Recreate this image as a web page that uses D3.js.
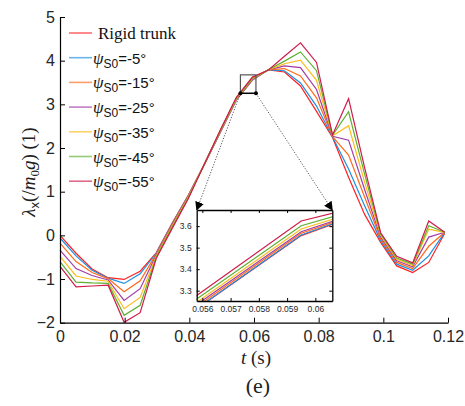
<!DOCTYPE html>
<html>
<head>
<meta charset="utf-8">
<script src="https://cdn.jsdelivr.net/npm/d3@7"></script>
<style>
  body { margin: 0; background: #fff; }
  .axis path, .axis line { stroke: #000; }
  .axis text { font-family: "Liberation Sans", Arial, sans-serif; fill: #262626; }
  .line { fill: none; stroke-width: 1.2px; stroke-linejoin: miter; }
</style>
</head>
<body>
<div class="svg_container"></div>
<script>
// time samples (s)
var times = [0, 0.00496, 0.00992, 0.01488, 0.01983, 0.02479, 0.02975, 0.03471, 0.03967,
  0.04463, 0.04958, 0.05454, 0.0595, 0.06446, 0.06942, 0.07438, 0.07933, 0.08429,
  0.08925, 0.09421, 0.09917, 0.10413, 0.10908, 0.11404, 0.119];

var seriesNames = ["Rigid trunk", "-5°", "-15°", "-25°", "-35°", "-45°", "-55°"];
var seriesColors = ["#ff2020", "#1f8fe0", "#ff6a1a", "#a23ca6", "#ffbb1c", "#5fb032", "#d01c4c"];

var rigid = [0.00, -0.41, -0.77, -0.97, -1.01, -0.82, -0.40, 0.28, 0.92, 1.62, 2.36, 3.10, 3.556, 3.79, 3.74, 3.42, 2.84, 2.24, 1.33, 0.48, -0.16, -0.70, -0.85, -0.62, 0.05];
var psi5  = [-0.06, -0.47, -0.80, -0.98, -1.10, -0.88, -0.41, 0.27, 0.91, 1.62, 2.36, 3.10, 3.559, 3.79, 3.77, 3.49, 2.96, 2.25, 1.52, 0.68, -0.12, -0.66, -0.80, -0.47, 0.07];
var psi15 = [-0.18, -0.60, -0.85, -0.99, -1.29, -1.04, -0.43, 0.26, 0.90, 1.63, 2.37, 3.11, 3.567, 3.79, 3.82, 3.65, 3.15, 2.26, 1.84, 0.88, -0.08, -0.62, -0.76, -0.25, 0.07];
var psi25 = [-0.34, -0.76, -0.92, -1.02, -1.49, -1.22, -0.45, 0.24, 0.89, 1.63, 2.38, 3.12, 3.574, 3.79, 3.88, 3.84, 3.34, 2.27, 2.18, 1.05, -0.04, -0.58, -0.72, -0.04, 0.07];
var psi35 = [-0.48, -0.93, -1.01, -1.05, -1.68, -1.42, -0.47, 0.22, 0.88, 1.63, 2.39, 3.13, 3.587, 3.79, 3.93, 4.01, 3.55, 2.28, 2.51, 1.22, 0.00, -0.55, -0.69, 0.14, 0.07];
var psi45 = [-0.60, -1.07, -1.09, -1.10, -1.83, -1.60, -0.50, 0.19, 0.86, 1.63, 2.40, 3.145, 3.602, 3.79, 3.99, 4.20, 3.77, 2.29, 2.83, 1.40, 0.03, -0.52, -0.66, 0.22, 0.07];
var psi55 = [-0.71, -1.18, -1.16, -1.14, -1.99, -1.77, -0.53, 0.16, 0.84, 1.63, 2.41, 3.16, 3.624, 3.785, 4.10, 4.41, 3.96, 2.30, 3.13, 1.55, 0.06, -0.48, -0.63, 0.33, 0.07];

var xTicks = [0, 0.02, 0.04, 0.06, 0.08, 0.1, 0.12];
var yTicks = [-2, -1, 0, 1, 2, 3, 4, 5];
var insetXTicks = [0.056, 0.057, 0.058, 0.059, 0.06];
var insetYTicks = [3.3, 3.4, 3.5, 3.6];
var insetXRange = [0.0558, 0.0606];
var insetYRange = [3.252, 3.675];

var allSeries = [rigid, psi5, psi15, psi25, psi35, psi45, psi55].map(function(vals, k) {
  return { name: seriesNames[k], color: seriesColors[k],
           values: vals.map(function(v, i) { return {t: times[i], v: v}; }) };
});

var fmt = function(d) { return d3.format("~g")(d); };

var svg = d3.select(".svg_container").append("svg")
  .attr("width", 465)
  .attr("height", 406)
  .style("font-family", "Liberation Sans, Arial, sans-serif");

// main axes area
var xScale = d3.scaleLinear().domain([0, 0.12]).range([60, 448]);
var yScale = d3.scaleLinear().domain([-2, 5]).range([322.7, 17]);

var line = d3.line()
  .x(function(d) { return xScale(d.t); })
  .y(function(d) { return yScale(d.v); });

svg.selectAll(".main-line")
  .data(allSeries)
  .enter().append("path")
  .attr("class", "line main-line")
  .attr("stroke", function(d) { return d.color; })
  .attr("d", function(d) { return line(d.values); });

// axes, ticks pointing inward
svg.append("g")
  .attr("class", "axis")
  .attr("transform", "translate(0," + yScale(-2) + ")")
  .call(d3.axisBottom(xScale).tickValues(xTicks).tickSizeInner(-5).tickSizeOuter(0).tickPadding(8)
    .tickFormat(fmt))
  .selectAll("text").style("font-size", "16px");

svg.append("g")
  .attr("class", "axis")
  .attr("transform", "translate(" + xScale(0) + ",0)")
  .call(d3.axisLeft(yScale).tickValues(yTicks).tickSizeInner(-5).tickSizeOuter(0).tickPadding(5)
    .tickFormat(fmt))
  .selectAll("text").style("font-size", "16px");

svg.selectAll(".axis path").attr("stroke-width", 1.2);

// legend
var legend = svg.append("g").attr("transform", "translate(69,33)");
allSeries.forEach(function(s, k) {
  var g = legend.append("g").attr("transform", "translate(0," + (k * 24.7) + ")");
  g.append("line")
    .attr("x1", 0).attr("x2", 23).attr("y1", 0).attr("y2", 0)
    .attr("stroke", s.color).attr("stroke-width", 1.6).attr("opacity", 0.65);
  var txt = g.append("text").attr("x", k === 0 ? 29 : 24).attr("y", 6).attr("fill", "#111");
  if (k === 0) {
    txt.style("font-family", "Liberation Serif, Times New Roman, serif").style("font-size", "17px").text(s.name);
  } else {
    txt.append("tspan").style("font-family", "Liberation Serif, serif").style("font-style", "italic")
      .style("font-size", "17px").text("ψ");
    txt.append("tspan").style("font-size", "12px").attr("dy", 4).text("S0");
    txt.append("tspan").style("font-size", "15px").attr("dy", -4).text("=" + s.name);
  }
});

// zoom rectangle on main plot
var zx0 = xScale(insetXRange[0]), zx1 = xScale(insetXRange[1]);
var zy0 = yScale(insetYRange[1]), zy1 = yScale(insetYRange[0]);
svg.append("rect")
  .attr("x", zx0).attr("y", zy0).attr("width", zx1 - zx0).attr("height", zy1 - zy0)
  .attr("fill", "none").attr("stroke", "#555").attr("stroke-width", 1.2);
svg.append("line")
  .attr("x1", zx0).attr("x2", zx1).attr("y1", zy1).attr("y2", zy1)
  .attr("stroke", "#000").attr("stroke-width", 1.4);

// inset axes
var ix = d3.scaleLinear().domain(insetXRange).range([196.7, 332.3]);
var iy = d3.scaleLinear().domain(insetYRange).range([301, 210]);

// connector arrows
svg.append("defs").append("marker")
  .attr("id", "arrow").attr("viewBox", "0 0 10 10").attr("refX", 9).attr("refY", 5)
  .attr("markerWidth", 9).attr("markerHeight", 9).attr("orient", "auto-start-reverse")
  .attr("markerUnits", "userSpaceOnUse")
  .append("path").attr("d", "M0,0L10,5L0,10z").attr("fill", "#000");

[[zx0, ix.range()[0]], [zx1, ix.range()[1]]].forEach(function(p) {
  svg.append("line")
    .attr("x1", p[0]).attr("y1", zy1).attr("x2", p[1]).attr("y2", iy.range()[1])
    .attr("stroke", "#444").attr("stroke-width", 0.9).attr("stroke-dasharray", "1.2,1.6")
    .attr("marker-end", "url(#arrow)");
  svg.append("circle").attr("cx", p[0]).attr("cy", zy1).attr("r", 2).attr("fill", "#000");
});

var inset = svg.append("g");
inset.append("rect")
  .attr("x", ix.range()[0]).attr("y", iy.range()[1])
  .attr("width", ix.range()[1] - ix.range()[0]).attr("height", iy.range()[0] - iy.range()[1])
  .attr("fill", "#fff");

svg.select("defs").append("clipPath").attr("id", "insetClip")
  .append("rect")
  .attr("x", ix.range()[0]).attr("y", iy.range()[1])
  .attr("width", ix.range()[1] - ix.range()[0]).attr("height", iy.range()[0] - iy.range()[1]);

var insetLine = d3.line()
  .x(function(d) { return ix(d.t); })
  .y(function(d) { return iy(d.v); });

inset.append("g").attr("clip-path", "url(#insetClip)")
  .selectAll("path").data(allSeries).enter().append("path")
  .attr("class", "line")
  .attr("stroke", function(d) { return d.color; })
  .attr("d", function(d) { return insetLine(d.values); });

inset.append("g").attr("class", "axis inset-axis")
  .attr("transform", "translate(0," + iy.range()[0] + ")")
  .call(d3.axisBottom(ix).tickValues(insetXTicks).tickSizeInner(-3).tickSizeOuter(0).tickPadding(5)
    .tickFormat(fmt));
inset.append("g").attr("class", "axis inset-axis")
  .attr("transform", "translate(0," + iy.range()[1] + ")")
  .call(d3.axisTop(ix).tickValues(insetXTicks).tickSizeInner(-3).tickSizeOuter(0).tickFormat(""));
inset.append("g").attr("class", "axis inset-axis")
  .attr("transform", "translate(" + ix.range()[0] + ",0)")
  .call(d3.axisLeft(iy).tickValues(insetYTicks).tickSizeInner(-3).tickSizeOuter(0).tickPadding(5)
    .tickFormat(fmt));
inset.append("g").attr("class", "axis inset-axis")
  .attr("transform", "translate(" + ix.range()[1] + ",0)")
  .call(d3.axisRight(iy).tickValues(insetYTicks).tickSizeInner(-3).tickSizeOuter(0).tickFormat(""));
inset.selectAll(".inset-axis text").style("font-size", "8.5px").attr("fill", "#444");
inset.selectAll(".inset-axis path").attr("stroke-width", 1.3);

// axis titles
var ylab = svg.append("text")
  .attr("transform", "translate(35,172) rotate(-90)")
  .attr("text-anchor", "middle")
  .style("font-family", "Liberation Serif, Times New Roman, serif")
  .style("font-size", "19px").attr("fill", "#222");
ylab.append("tspan").style("font-style", "italic").text("λ");
ylab.append("tspan").style("font-family", "Liberation Sans, Arial, sans-serif").style("font-size", "13px").attr("dy", 4).text("x");
ylab.append("tspan").attr("dy", -4).text("(/");
ylab.append("tspan").style("font-style", "italic").text("m");
ylab.append("tspan").style("font-size", "13px").attr("dy", 4).text("0");
ylab.append("tspan").style("font-style", "italic").attr("dy", -4).text("g");
ylab.append("tspan").text(") (1)");

var xlab = svg.append("text")
  .attr("x", 256).attr("y", 364)
  .attr("text-anchor", "middle")
  .style("font-family", "Liberation Serif, Times New Roman, serif")
  .style("font-size", "19px").attr("fill", "#222");
xlab.append("tspan").style("font-style", "italic").text("t");
xlab.append("tspan").text(" (s)");

svg.append("text")
  .attr("x", 258).attr("y", 393)
  .attr("text-anchor", "middle")
  .style("font-family", "Liberation Serif, Times New Roman, serif")
  .style("font-size", "22px").attr("fill", "#222")
  .text("(e)");
</script>
</body>
</html>
